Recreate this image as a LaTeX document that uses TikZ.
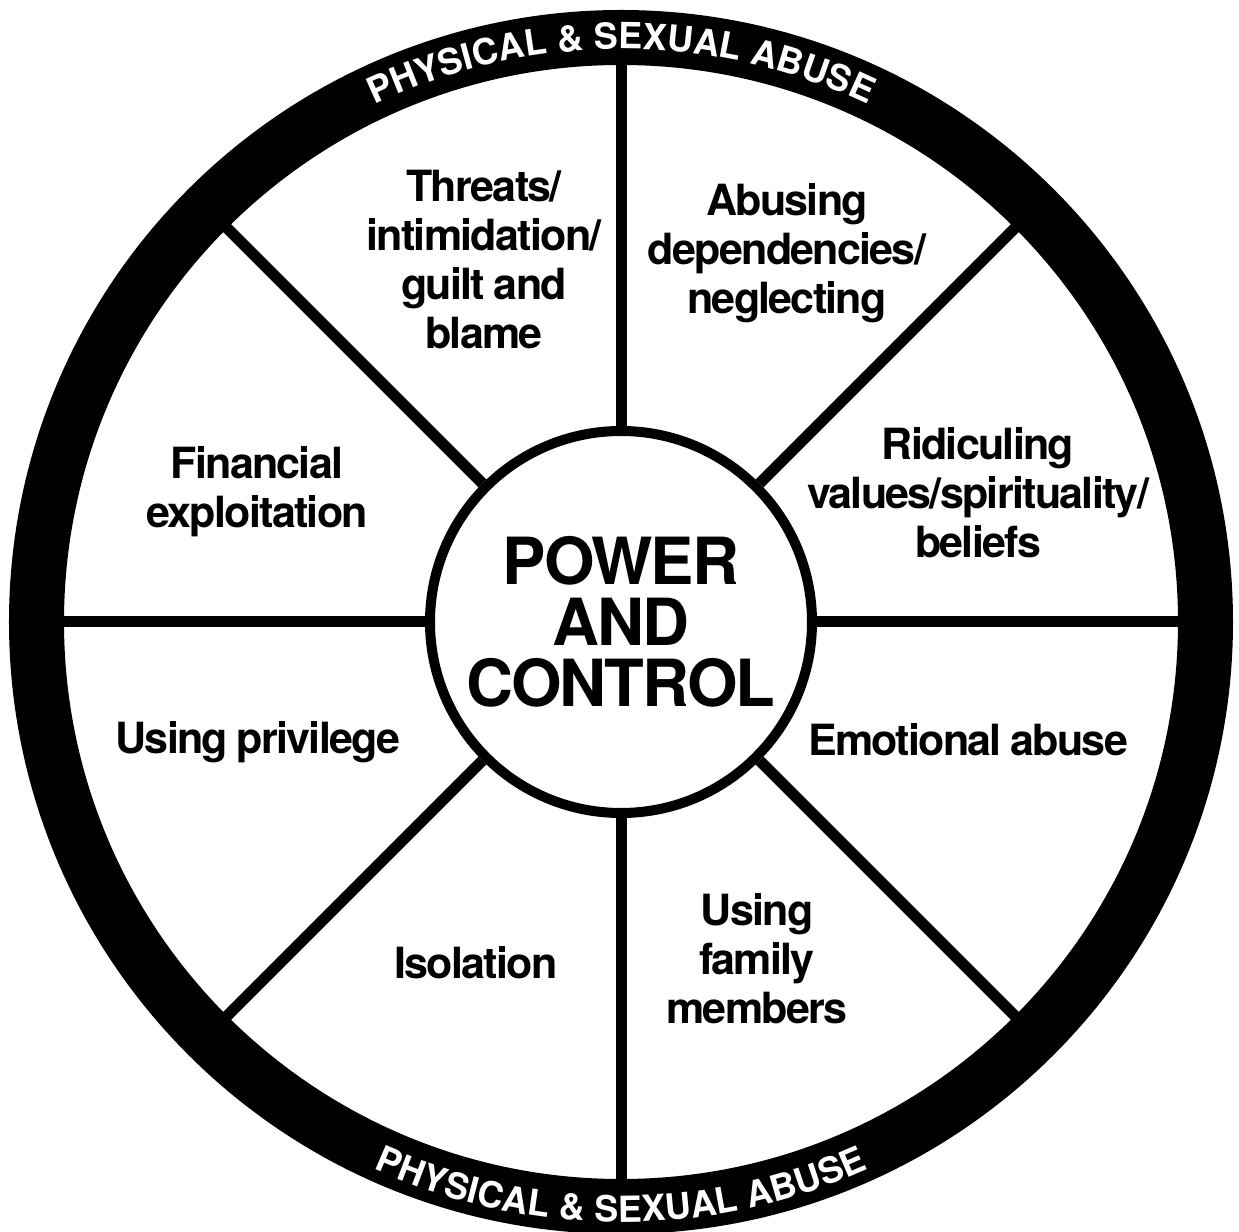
\documentclass[tikz,border=0pt]{standalone}
\usepackage{fontspec}
\setmainfont{TeX Gyre Heros}
\newfontfamily\sectorfont[LetterSpace=-4, WordSpace=0.85]{TeX Gyre Heros}
\newfontfamily\hubfont[LetterSpace=-3]{TeX Gyre Heros}
\usetikzlibrary{decorations.text}

% white lettering set inside the black rim
\newcommand\rimfont{\fontsize{36}{36}\selectfont\bfseries\color{white}}

\tikzset{
  spoke/.style={line width=11pt},
  rim/.style={line width=55pt},
  sectortext/.style={align=center, inner sep=0pt,
    font=\sectorfont\fontsize{43}{49}\selectfont\bfseries},
  hubstyle/.style={circle, draw, line width=10pt, minimum size=382pt,
    inner sep=0pt, align=center,
    font=\hubfont\fontsize{65}{61}\selectfont\bfseries},
}

\begin{document}
\begin{tikzpicture}[x=1pt, y=1pt]
  \useasboundingbox (-621,-609) rectangle (618,622);
  \fill[white] (-621,-609) rectangle (618,622);

  % hub
  \node[hubstyle] (hub) at (0,0) {POWER\\AND\\CONTROL};

  % spokes from the hub out to the rim
  \foreach \a in {0,45,...,315}
    \coordinate (rim\a) at (\a:570);
  \foreach \a in {0,45,...,315}
    \draw[spoke] (hub.\a) -- (rim\a);

  % outer rim
  \draw[rim] (0,0) circle (584.5);

  % rim lettering, top and bottom
  \path[decorate, decoration={text along path, text align=center,
      text={|\rimfont|PHYSICAL {\&} SEXUAL ABUSE}}]
    (150:573) arc[start angle=150, end angle=30, radius=573];
  \path[decorate, decoration={text along path, text align=center,
      text={|\rimfont|PHYSICAL {\&} SEXUAL ABUSE}}]
    (210:600) arc[start angle=210, end angle=330, radius=600];

  % sector labels
  \node[sectortext] (threats)   at (-137,362)   {Threats/\\intimidation/\\guilt and\\blame};
  \node[sectortext] (abusing)   at (166,368.5)  {Abusing\\dependencies/\\neglecting};
  \node[sectortext] (ridicule)  at (357,129)    {Ridiculing\\values/spirituality/\\beliefs};
  \node[sectortext] (emotional) at (347,-118)   {Emotional abuse};
  \node[sectortext] (family)    at (136,-336.5) {Using\\family\\members};
  \node[sectortext] (isolation) at (-145,-341)  {Isolation};
  \node[sectortext] (privilege) at (-363,-120.5){Using privilege};
  \node[sectortext] (financial) at (-364,130.5) {Financial\\exploitation};
\end{tikzpicture}
\end{document}
